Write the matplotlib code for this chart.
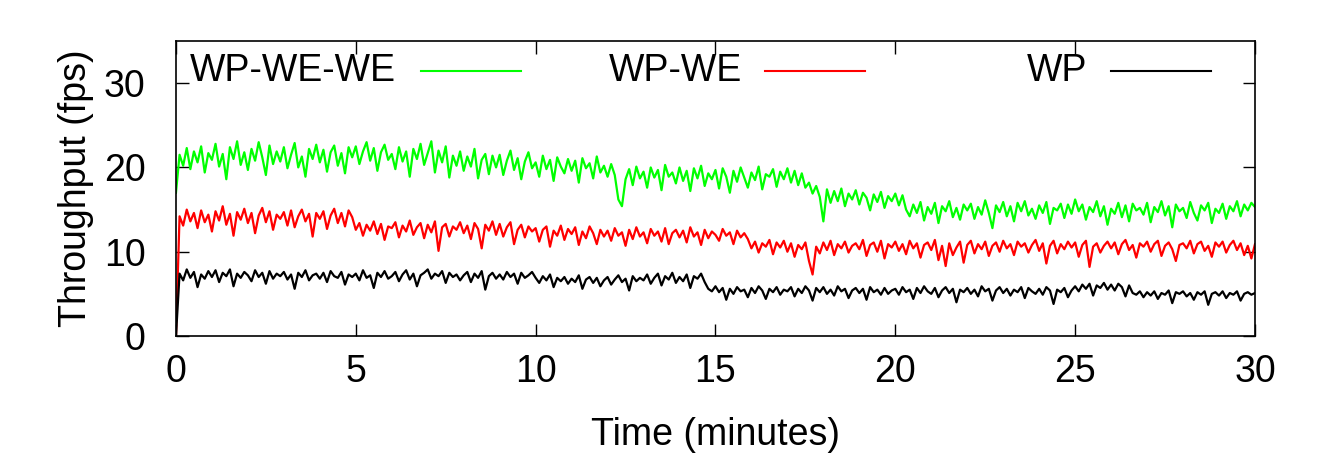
#!/usr/bin/env python3
# coding: utf-8
import numpy as np
import matplotlib
matplotlib.use("Agg")
import matplotlib.pyplot as plt

plt.rcParams['font.family'] = ['Liberation Sans', 'DejaVu Sans']

# throughput samples (fps), one every 0.1 minute
wp_we_we = [
    17.0, 21.5, 20.2, 22.3, 19.8, 21.9, 20.6, 22.5, 19.4, 21.7,
    20.9, 22.8, 20.1, 21.6, 18.6, 22.4, 21.0, 23.1, 20.3, 21.8,
    19.7, 22.2, 20.8, 23.0, 21.2, 19.1, 22.6, 20.4, 21.9, 20.7,
    22.4, 19.9, 21.5, 22.9, 20.0, 21.3, 18.9, 22.2, 21.0, 22.7,
    20.6, 22.1, 19.5, 21.8, 22.6, 20.2, 21.7, 19.3, 22.4, 21.2,
    22.5, 20.4, 21.9, 23.0, 20.8, 22.3, 19.6, 21.8, 22.7, 20.9,
    21.6, 19.8, 22.4, 20.7, 21.9, 18.9, 22.2, 21.0, 22.8, 20.3,
    21.7, 23.1, 19.4, 22.0, 20.6, 22.5, 18.8, 21.4, 20.2, 21.9,
    19.6, 21.3, 20.1, 22.2, 18.7, 20.9, 21.6, 19.2, 21.4, 20.0,
    21.5, 19.1, 20.8, 22.0, 19.7, 21.1, 18.6, 20.7, 21.8, 19.9,
    20.6, 18.9, 21.4, 19.8, 20.9, 18.4, 21.2, 20.1, 19.3, 21.0,
    19.6, 20.8, 18.2, 21.1, 19.9, 20.5, 18.7, 21.3, 19.4, 20.2,
    18.9, 20.4, 19.1, 16.2, 15.4, 18.6, 19.8, 17.9, 20.1, 18.7,
    19.5, 17.6, 20.0, 18.8, 19.7, 17.3, 20.3, 18.9, 19.4, 18.1,
    20.0, 18.4, 19.6, 17.2, 19.9, 18.7, 20.2, 17.8, 19.3, 18.6,
    19.7, 17.5, 19.9, 18.9, 17.0, 19.6, 18.3, 20.0, 18.8, 17.6,
    19.4, 18.5, 20.1, 17.4, 19.2, 18.9, 19.8, 17.7, 19.5, 18.6,
    19.9, 18.2, 19.6, 17.9, 19.3, 17.6, 18.2, 16.9, 17.8, 16.5,
    13.6, 17.4, 15.8, 17.2, 16.0, 17.5, 15.4, 16.9, 16.2, 17.3,
    15.6, 17.0, 16.4, 14.9, 16.8, 15.9, 17.1, 15.2, 16.6, 16.0,
    16.9, 15.5, 16.7, 15.0, 14.2, 15.6, 14.6, 15.9, 13.7, 15.3,
    14.5, 15.8, 13.4, 15.4, 14.8, 16.0, 14.1, 15.2, 13.8, 15.6,
    14.9, 15.7, 13.9, 15.3, 14.4, 16.1, 14.6, 12.8, 15.5, 14.7,
    15.9, 14.2, 15.4, 13.6, 15.8, 14.8, 16.0, 14.3, 15.1, 13.9,
    15.5, 14.6, 15.9, 13.3, 15.2, 14.9, 15.7, 14.0, 15.6, 14.5,
    16.2, 14.8, 15.6, 13.8, 15.3, 14.7, 16.0, 14.2, 15.4, 13.2,
    15.1, 14.5, 15.8, 14.1, 15.5, 13.6, 15.7, 14.9, 15.2, 14.4,
    15.8, 13.5, 15.3, 14.7, 16.0, 14.3, 15.4, 12.9, 15.6, 14.8,
    15.2, 14.0, 15.9, 14.6, 13.7, 15.5, 14.9, 15.8, 13.4, 15.1,
    14.6, 15.7, 13.9, 15.4, 14.8, 16.0, 14.2, 15.6, 14.9, 15.8,
    15.3,
]

wp_we = [
    0.0, 14.2, 13.1, 15.0, 13.6, 14.6, 12.8, 14.9, 13.5, 14.4,
    12.4, 14.8, 13.7, 15.4, 13.2, 14.5, 11.9, 14.7, 13.8, 15.1,
    13.4, 14.6, 12.2, 14.3, 15.2, 13.5, 14.8, 12.6, 14.4, 13.9,
    14.7, 13.1, 14.9, 12.9, 14.2, 15.0, 13.6, 14.5, 11.8, 14.6,
    13.9, 14.8, 12.7, 14.3, 15.1, 13.4, 14.6, 13.0, 14.9, 14.1,
    12.6, 13.4, 11.9, 13.2, 12.5, 13.6, 12.1, 13.3, 11.4, 13.0,
    12.8, 13.5, 11.7, 13.1, 12.4, 13.7, 12.0, 12.9, 13.4, 11.6,
    13.2, 12.3, 13.6, 10.1, 12.9, 13.3, 11.8, 13.0, 12.6, 13.5,
    12.2, 13.1, 11.5, 13.4, 12.7, 10.4, 13.2, 12.5, 13.6, 12.0,
    13.3, 11.8, 12.9, 13.5, 10.9, 12.6, 13.2, 11.7, 13.0, 12.4,
    12.8, 11.2, 12.6, 13.0, 10.6, 12.5, 11.9, 13.1, 11.4, 12.7,
    12.1, 12.9, 10.8, 12.4, 11.6, 13.0, 12.2, 10.9, 12.6, 11.8,
    12.5, 11.3, 12.8, 11.9, 12.3, 10.7, 12.6, 11.5, 12.9, 11.8,
    12.3, 11.0, 12.7, 11.9, 12.4, 11.2, 12.8, 10.9, 12.2, 12.6,
    11.7, 12.5, 11.1, 12.9, 11.8, 12.3, 10.8, 12.6, 11.6, 12.4,
    12.0, 11.3, 12.7, 11.9, 12.3, 10.9, 12.5, 11.7, 12.2, 11.5,
    10.4, 11.2, 9.9, 11.0, 10.6, 11.4, 9.7, 11.1, 10.5, 11.3,
    10.0, 11.0, 9.4, 10.8, 10.3, 11.1, 8.9, 7.3, 10.6, 9.8,
    11.1, 10.2, 11.3, 9.6, 10.9, 10.4, 11.2, 9.9, 10.7, 11.0,
    10.3, 11.4, 9.5, 10.8, 11.1, 10.0, 11.3, 9.2, 10.9, 10.5,
    11.2, 10.1, 10.9, 9.7, 11.3, 10.4, 11.0, 9.3, 10.8, 11.1,
    10.2, 11.4, 9.0, 10.7, 8.3, 11.0, 9.6, 10.5, 11.2, 8.7,
    10.8, 11.3, 9.8, 10.9, 10.3, 11.2, 9.5, 10.7, 11.1, 10.0,
    11.3, 10.4, 10.9, 9.6, 11.2, 10.6, 11.0, 9.9, 10.8, 11.4,
    10.1, 11.0, 8.6, 10.7, 11.3, 9.8, 10.9, 10.3, 11.2, 10.5,
    11.1, 9.4, 10.8, 11.3, 8.2, 10.6, 11.0, 9.9, 10.7, 11.2,
    10.4, 11.1, 9.7, 10.9, 11.4, 10.2, 10.8, 9.3, 11.0, 10.6,
    11.2, 10.0, 10.9, 11.3, 9.5, 10.7, 11.1, 10.3, 8.9, 10.8,
    11.0, 10.4, 11.3, 9.8, 10.9, 11.2, 10.1, 10.7, 9.4, 11.1,
    10.6, 11.2, 9.9, 10.8, 11.3, 10.2, 11.0, 9.6, 10.7, 9.2,
    10.9,
]

wp = [
    0.0, 7.4, 6.6, 7.9, 6.9, 7.6, 5.8, 7.3, 6.8, 7.7,
    7.0, 7.8, 6.4, 7.5, 7.1, 7.9, 5.9, 7.4, 6.9, 7.6,
    7.2, 6.5, 7.8, 7.0, 7.5, 6.2, 7.7, 6.8, 7.4, 7.1,
    7.6, 6.7, 7.3, 5.6, 7.5, 7.0, 7.8, 6.6, 7.2, 7.4,
    6.8, 7.5, 6.4, 7.7, 7.1, 6.9, 7.6, 6.1, 7.3, 7.0,
    7.4, 6.6, 7.8, 6.9, 7.2, 5.7, 7.5, 7.0, 7.7, 6.8,
    7.1, 7.6, 6.5, 7.3, 7.8, 6.7, 7.4, 5.9, 7.2, 7.5,
    7.9, 6.8, 7.4, 7.1, 7.7, 6.3, 7.5, 7.0, 7.3, 6.6,
    7.2, 7.6, 6.4, 7.4, 6.9, 7.7, 5.5, 7.1, 7.5, 6.8,
    7.3, 6.7, 7.6, 7.0, 7.4, 6.2, 7.5, 6.9, 7.2, 7.6,
    6.9, 6.3, 7.1, 6.6, 7.3, 5.8, 6.9, 6.5, 7.0, 6.2,
    6.8, 6.4, 7.2, 5.6, 6.7, 7.0, 6.3, 6.9, 5.9, 6.6,
    7.0, 6.1, 6.7, 7.2, 6.4, 6.8, 5.4, 7.1, 6.5, 6.9,
    6.6, 7.3, 6.2, 6.9, 7.4, 6.0, 7.1, 6.7, 7.5, 6.3,
    7.0, 6.5, 7.3, 5.7, 7.1, 6.8, 7.4, 6.4, 5.6, 5.3,
    5.9, 5.2, 5.7, 4.3, 5.6, 5.0, 5.8, 5.3, 5.5, 4.6,
    5.7, 5.1, 5.9, 5.4, 4.4, 5.6, 5.2, 5.8, 4.9, 5.5,
    5.3, 5.8, 4.7, 5.6, 5.1, 5.9, 5.4, 4.2, 5.7, 5.2,
    5.8, 5.0, 5.5, 4.8, 5.9, 5.3, 5.6, 4.5, 5.4, 5.7,
    5.1, 5.6, 4.3, 5.8, 5.2, 5.5, 4.9, 5.7, 5.0, 5.4,
    5.6, 4.9, 5.8, 5.2, 5.5, 4.4, 5.7, 5.1, 5.9, 5.3,
    5.0, 5.7, 4.6, 5.4, 5.8, 5.1, 5.6, 4.0, 5.5, 5.2,
    5.7, 5.0, 5.5, 4.7, 5.9, 5.3, 5.6, 4.2, 5.4, 5.8,
    5.1, 5.6, 4.8, 5.5, 5.2, 5.8, 4.5, 5.7, 5.3, 5.0,
    5.6, 4.9, 5.8, 5.4, 3.8, 5.5, 5.2, 5.7, 4.6, 5.4,
    5.9, 5.3, 6.1, 5.6, 6.2, 4.8, 6.0, 5.7, 6.3, 5.5,
    6.1, 5.4, 6.2, 5.8, 4.7, 6.0, 5.1, 4.9, 5.3, 4.6,
    5.2, 4.8, 5.3, 4.4, 5.1, 4.9, 5.4, 3.9, 5.2, 5.0,
    5.3, 4.7, 5.1, 4.3, 5.2, 4.9, 5.3, 3.7, 5.0, 5.2,
    4.8, 5.3, 4.5, 5.1, 4.9, 5.3, 4.2, 5.0, 5.2, 4.9,
    5.1,
]

time_step = 0.1  # minutes between samples
series = [("WP-WE-WE", wp_we_we, "#00ff00"),
          ("WP-WE", wp_we, "#ff0000"),
          ("WP", wp, "#000000")]

fig = plt.figure(figsize=(13.29, 4.65), dpi=100)
ax = fig.add_axes([0.1324, 0.2774, 0.8119, 0.6344])

for name, vals, col in series:
    minutes = np.arange(len(vals)) * time_step
    ax.plot(minutes, vals, color=col, lw=1.6)

ax.set_xlim(0, 30)
ax.set_ylim(0, 35)
ax.set_xticks([0, 5, 10, 15, 20, 25, 30])
ax.set_yticks([0, 10, 20, 30])
ax.tick_params(direction="in", length=9, width=1, labelsize=27,
               top=True, right=True)
ax.tick_params(axis="x", pad=13)
ax.tick_params(axis="y", pad=22)
for s in ax.spines.values():
    s.set_linewidth(1.2)

ax.set_xlabel("Time (minutes)", fontsize=27)
ax.set_ylabel("Throughput (fps)", fontsize=27)
ax.xaxis.set_label_coords(0.5, -0.275)
ax.yaxis.set_label_coords(-0.076, 0.5)

# gnuplot style key: text right aligned, sample line after it
key_text_x = [0.204, 0.5245, 0.8443]
key_line_x = [(0.227, 0.320), (0.546, 0.639), (0.8666, 0.959)]
key_y = 0.898
for (name, vals, col), tx, (l0, l1) in zip(series, key_text_x, key_line_x):
    ax.text(tx, key_y, name, transform=ax.transAxes, ha="right",
            va="center", fontsize=27)
    ax.plot([l0, l1], [key_y, key_y], transform=ax.transAxes,
            color=col, lw=1.5)

fig.savefig("out.png", dpi=100)
